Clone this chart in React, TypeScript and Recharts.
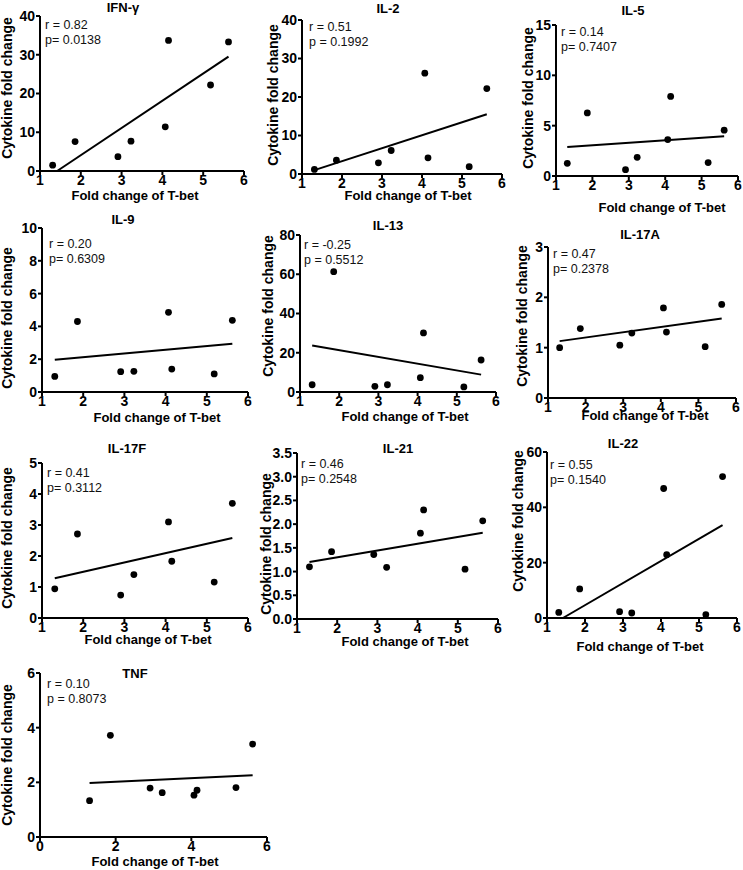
import { ScatterChart, Scatter, XAxis, YAxis, ReferenceLine } from 'recharts'

// T-bet fold change, same eight samples in every panel
const TBET = [1.31, 1.86, 2.91, 3.23, 4.07, 4.15, 5.18, 5.62]

const IFNG = [1.5, 7.6, 3.7, 7.7, 11.4, 33.7, 22.2, 33.3]
const IL2 = [1.2, 3.6, 2.9, 6.1, 26.2, 4.2, 1.9, 22.2]
const IL5 = [1.26, 6.27, 0.63, 1.86, 3.62, 7.9, 1.33, 4.55]
const IL9 = [0.95, 4.3, 1.24, 1.26, 4.86, 1.4, 1.1, 4.37]
const IL13 = [3.7, 61.3, 2.9, 3.7, 7.3, 30.1, 2.6, 16.3]
const IL17A = [1.0, 1.38, 1.05, 1.29, 1.79, 1.31, 1.02, 1.86]
const IL17F = [0.94, 2.71, 0.74, 1.4, 3.1, 1.83, 1.16, 3.7]
const IL21 = [1.1, 1.42, 1.36, 1.09, 1.81, 2.3, 1.05, 2.07]
const IL22 = [2.0, 10.5, 2.3, 1.8, 46.8, 22.9, 1.2, 51.1]
const TNF = [1.33, 3.72, 1.79, 1.62, 1.53, 1.71, 1.81, 3.4]

// regression lines: [x, y] start and end
const FIT_IFNG = [[1.42, 0], [5.62, 29.5]]
const FIT_IL2 = [[1.31, 1.0], [5.62, 15.5]]
const FIT_IL5 = [[1.31, 2.89], [5.62, 3.95]]
const FIT_IL9 = [[1.31, 1.96], [5.62, 2.94]]
const FIT_IL13 = [[1.31, 23.7], [5.62, 8.85]]
const FIT_IL17A = [[1.31, 1.13], [5.62, 1.58]]
const FIT_IL17F = [[1.31, 1.28], [5.62, 2.58]]
const FIT_IL21 = [[1.31, 1.2], [5.62, 1.82]]
const FIT_IL22 = [[1.42, 0], [5.62, 33.6]]
const FIT_TNF = [[1.31, 1.98], [5.62, 2.26]]

const X_TICKS = [1, 2, 3, 4, 5, 6]
const X_TICKS_TNF = [0, 2, 4, 6]

const PANELS = [
  { title: 'IFN-\u03b3', r: 'r = 0.82', p: 'p= 0.0138', values: IFNG, fit: FIT_IFNG, yTicks: [0, 10, 20, 30, 40], xTicks: X_TICKS },
  { title: 'IL-2', r: 'r = 0.51', p: 'p = 0.1992', values: IL2, fit: FIT_IL2, yTicks: [0, 10, 20, 30, 40], xTicks: X_TICKS },
  { title: 'IL-5', r: 'r = 0.14', p: 'p= 0.7407', values: IL5, fit: FIT_IL5, yTicks: [0, 5, 10, 15], xTicks: X_TICKS },
  { title: 'IL-9', r: 'r = 0.20', p: 'p= 0.6309', values: IL9, fit: FIT_IL9, yTicks: [0, 2, 4, 6, 8, 10], xTicks: X_TICKS },
  { title: 'IL-13', r: 'r = -0.25', p: 'p = 0.5512', values: IL13, fit: FIT_IL13, yTicks: [0, 20, 40, 60, 80], xTicks: X_TICKS },
  { title: 'IL-17A', r: 'r = 0.47', p: 'p= 0.2378', values: IL17A, fit: FIT_IL17A, yTicks: [0, 1, 2, 3], xTicks: X_TICKS },
  { title: 'IL-17F', r: 'r = 0.41', p: 'p= 0.3112', values: IL17F, fit: FIT_IL17F, yTicks: [0, 1, 2, 3, 4, 5], xTicks: X_TICKS },
  { title: 'IL-21', r: 'r = 0.46', p: 'p= 0.2548', values: IL21, fit: FIT_IL21, yTicks: [0, 0.5, 1, 1.5, 2, 2.5, 3, 3.5], xTicks: X_TICKS, decimals: 1 },
  { title: 'IL-22', r: 'r = 0.55', p: 'p= 0.1540', values: IL22, fit: FIT_IL22, yTicks: [0, 20, 40, 60], xTicks: X_TICKS },
  { title: 'TNF', r: 'r = 0.10', p: 'p = 0.8073', values: TNF, fit: FIT_TNF, yTicks: [0, 2, 4, 6], xTicks: X_TICKS_TNF },
]

// page positions: plot box, title centre, stats corner, axis label centres
const LAYOUT = [
  { x0: 40, x1: 244, top: 16, bottom: 171, title: [123, 7], stats: [45, 18], xlab: [135, 195], ylab: [7, 88] },
  { x0: 302, x1: 502, top: 20, bottom: 174, title: [388, 8], stats: [309, 20], xlab: [408, 195], ylab: [273, 95] },
  { x0: 556, x1: 738, top: 25, bottom: 176, title: [633, 10], stats: [561, 25], xlab: [662, 207], ylab: [528, 98] },
  { x0: 42, x1: 248, top: 228, bottom: 392, title: [123, 219], stats: [49, 237], xlab: [157, 417], ylab: [7, 318] },
  { x0: 300, x1: 496, top: 235, bottom: 392, title: [388, 225], stats: [304, 238], xlab: [405, 416], ylab: [268, 306] },
  { x0: 548, x1: 736, top: 247, bottom: 398, title: [640, 234], stats: [553, 247], xlab: [645, 415], ylab: [522, 316] },
  { x0: 42, x1: 248, top: 463, bottom: 618, title: [127, 448], stats: [47, 466], xlab: [148, 639], ylab: [7, 538] },
  { x0: 297, x1: 498, top: 453, bottom: 619, title: [398, 448], stats: [301, 457], xlab: [405, 641], ylab: [266, 544] },
  { x0: 547, x1: 737, top: 452, bottom: 618, title: [623, 443], stats: [550, 458], xlab: [640, 646], ylab: [518, 521] },
  { x0: 40, x1: 267, top: 673, bottom: 837, title: [135, 673], stats: [47, 677], xlab: [155, 861], ylab: [7, 755] },
]

const PAD_L = 40
const PAD_R = 10
const PAD_T = 14
const PAD_B = 30

const tickStyle = { fontSize: 14, fontWeight: 700, fill: '#000' }
const axisStroke = { stroke: '#000', strokeWidth: 2 }

const Dot = (props: any) => <circle cx={props.cx} cy={props.cy} r={3.4} fill="#000" />

function Panel({ cfg, box }: { cfg: (typeof PANELS)[number]; box: (typeof LAYOUT)[number] }) {
  const W = box.x1 - box.x0 + PAD_L + PAD_R
  const H = box.bottom - box.top + PAD_T + PAD_B
  const data = TBET.map((x, i) => ({ x, y: cfg.values[i] }))
  const yMax = cfg.yTicks[cfg.yTicks.length - 1]
  const [a, b] = cfg.fit

  return (
    <>
      <div style={{ position: 'absolute', left: box.x0 - PAD_L, top: box.top - PAD_T }}>
        <ScatterChart width={W} height={H} margin={{ top: PAD_T, right: PAD_R, bottom: 0, left: 0 }}>
          <XAxis
            type="number"
            dataKey="x"
            domain={[cfg.xTicks[0], 6]}
            ticks={cfg.xTicks}
            height={PAD_B}
            tick={tickStyle}
            axisLine={axisStroke}
            tickLine={axisStroke}
            tickSize={4}
            tickMargin={0}
            allowDataOverflow
          />
          <YAxis
            type="number"
            dataKey="y"
            domain={[0, yMax]}
            ticks={cfg.yTicks}
            width={PAD_L}
            tick={tickStyle}
            axisLine={axisStroke}
            tickLine={axisStroke}
            tickSize={4}
            tickMargin={1}
            tickFormatter={(v: number) => (cfg.decimals ? v.toFixed(cfg.decimals) : String(v))}
            allowDataOverflow
          />
          <ReferenceLine
            segment={[{ x: a[0], y: a[1] }, { x: b[0], y: b[1] }]}
            stroke="#000"
            strokeWidth={2}
            ifOverflow="visible"
          />
          <Scatter data={data} shape={Dot} isAnimationActive={false} />
        </ScatterChart>
      </div>
      <div style={{ position: 'absolute', left: box.title[0], top: box.title[1], transform: 'translate(-50%, -50%)', fontSize: 13, fontWeight: 700, whiteSpace: 'nowrap' }}>
        {cfg.title}
      </div>
      <div style={{ position: 'absolute', left: box.stats[0], top: box.stats[1], fontSize: 12.5, lineHeight: '15px', color: '#111', whiteSpace: 'nowrap' }}>
        <div>{cfg.r}</div>
        <div>{cfg.p}</div>
      </div>
      <div style={{ position: 'absolute', left: box.xlab[0], top: box.xlab[1], transform: 'translate(-50%, -50%)', fontSize: 13, fontWeight: 700, whiteSpace: 'nowrap' }}>
        Fold change of T-bet
      </div>
      <div style={{ position: 'absolute', left: box.ylab[0], top: box.ylab[1], transform: 'translate(-50%, -50%) rotate(-90deg)', fontSize: 14, fontWeight: 700, whiteSpace: 'nowrap' }}>
        Cytokine fold change
      </div>
    </>
  )
}

export default function App() {
  return (
    <div
      style={{
        position: 'absolute',
        left: 0,
        top: 0,
        width: 743,
        height: 870,
        overflow: 'hidden',
        background: '#fff',
        color: '#000',
        fontFamily: 'Arial, "Liberation Sans", sans-serif',
      }}
    >
      {PANELS.map((cfg, i) => (
        <Panel key={cfg.title} cfg={cfg} box={LAYOUT[i]} />
      ))}
    </div>
  )
}
